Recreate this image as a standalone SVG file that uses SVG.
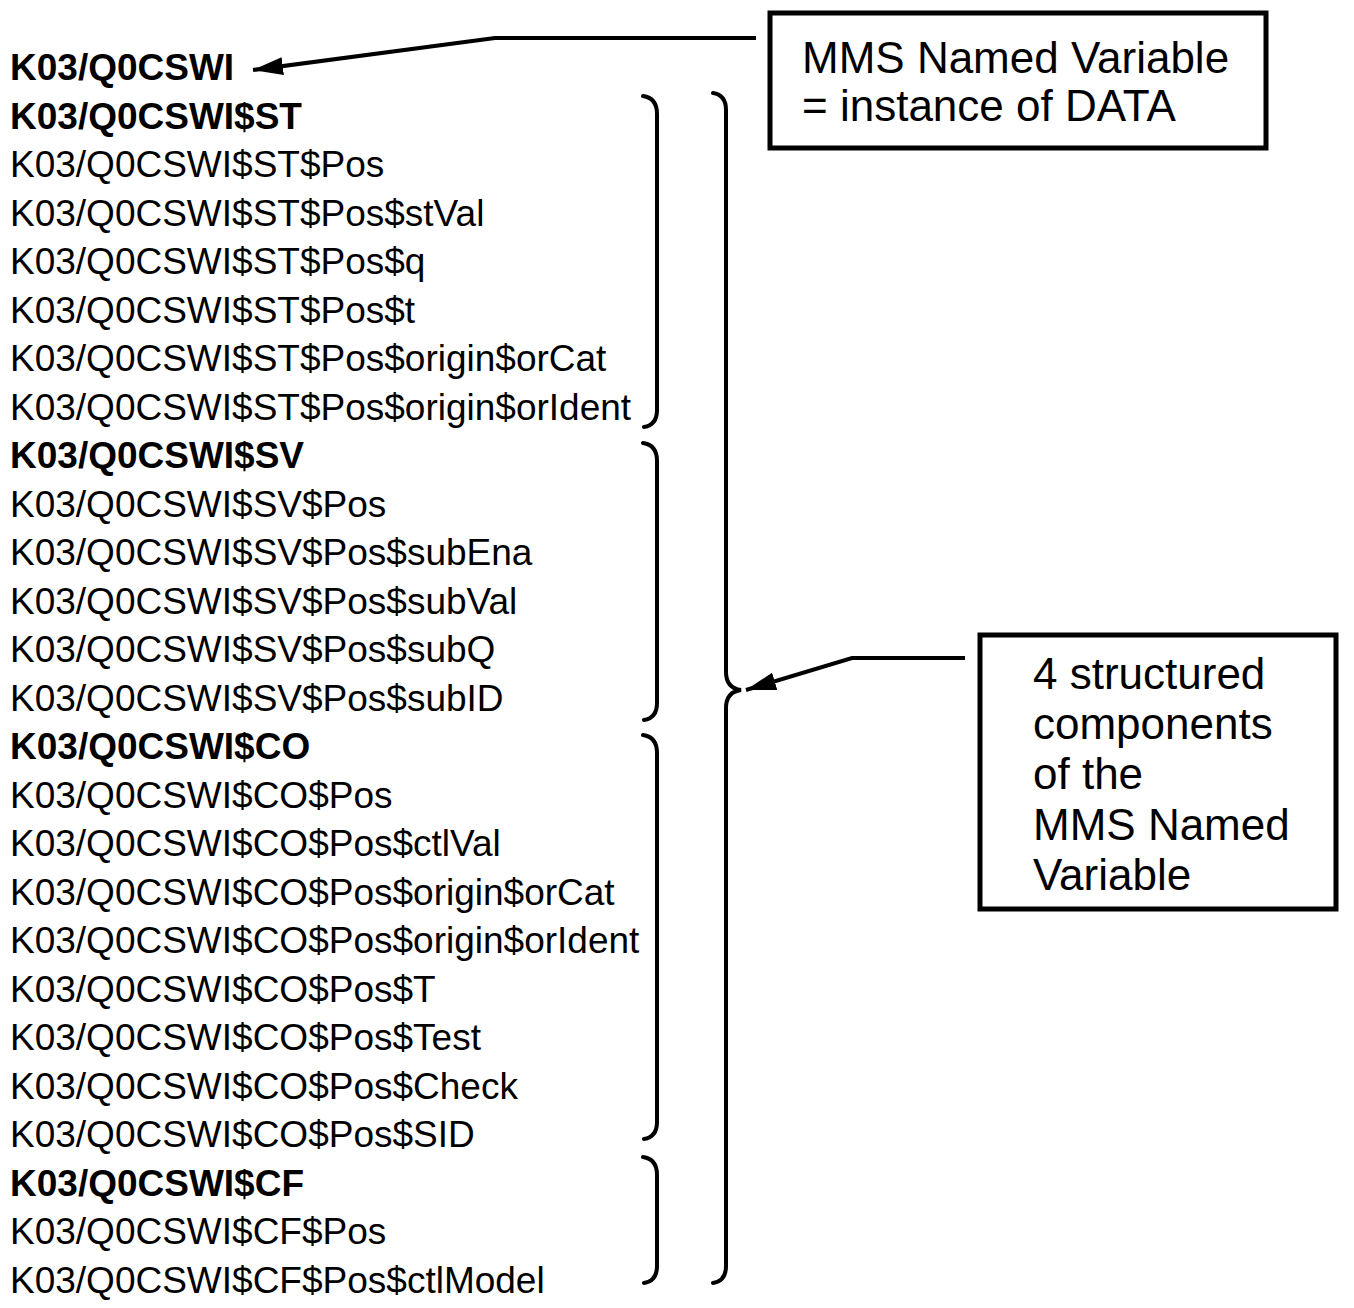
<svg xmlns="http://www.w3.org/2000/svg" width="1354" height="1308" viewBox="0 0 1354 1308">
<defs>
<style>
text{font-family:"Liberation Sans",Arial,sans-serif;fill:#000}
.n{font-size:37px}
.b{font-size:37px;font-weight:bold}
.bx{font-size:44px}
.box{fill:#fff;stroke:#000;stroke-width:5}
.br{fill:none;stroke:#000;stroke-width:4;stroke-linecap:round}
.ln{fill:none;stroke:#000;stroke-width:4}
</style>
<marker id="ah" viewBox="0 0 30 18" refX="30" refY="9" markerWidth="30" markerHeight="18" markerUnits="userSpaceOnUse" orient="auto">
<path d="M0,0 L30,9 L0,18 z" fill="#000"/>
</marker>
</defs>
<rect width="1354" height="1308" fill="#fff"/>
<g id="list">
<text class="b" x="10" y="80">K03/Q0CSWI</text>
<text class="b" x="10" y="128.5">K03/Q0CSWI$ST</text>
<text class="n" x="10" y="177">K03/Q0CSWI$ST$Pos</text>
<text class="n" x="10" y="225.5">K03/Q0CSWI$ST$Pos$stVal</text>
<text class="n" x="10" y="274">K03/Q0CSWI$ST$Pos$q</text>
<text class="n" x="10" y="322.5">K03/Q0CSWI$ST$Pos$t</text>
<text class="n" x="10" y="371">K03/Q0CSWI$ST$Pos$origin$orCat</text>
<text class="n" x="10" y="419.5">K03/Q0CSWI$ST$Pos$origin$orIdent</text>
<text class="b" x="10" y="468">K03/Q0CSWI$SV</text>
<text class="n" x="10" y="516.5">K03/Q0CSWI$SV$Pos</text>
<text class="n" x="10" y="565">K03/Q0CSWI$SV$Pos$subEna</text>
<text class="n" x="10" y="613.5">K03/Q0CSWI$SV$Pos$subVal</text>
<text class="n" x="10" y="662">K03/Q0CSWI$SV$Pos$subQ</text>
<text class="n" x="10" y="710.5">K03/Q0CSWI$SV$Pos$subID</text>
<text class="b" x="10" y="759">K03/Q0CSWI$CO</text>
<text class="n" x="10" y="807.5">K03/Q0CSWI$CO$Pos</text>
<text class="n" x="10" y="856">K03/Q0CSWI$CO$Pos$ctlVal</text>
<text class="n" x="10" y="904.5">K03/Q0CSWI$CO$Pos$origin$orCat</text>
<text class="n" x="10" y="953">K03/Q0CSWI$CO$Pos$origin$orIdent</text>
<text class="n" x="10" y="1001.5">K03/Q0CSWI$CO$Pos$T</text>
<text class="n" x="10" y="1050">K03/Q0CSWI$CO$Pos$Test</text>
<text class="n" x="10" y="1098.5">K03/Q0CSWI$CO$Pos$Check</text>
<text class="n" x="10" y="1147">K03/Q0CSWI$CO$Pos$SID</text>
<text class="b" x="10" y="1195.5">K03/Q0CSWI$CF</text>
<text class="n" x="10" y="1244">K03/Q0CSWI$CF$Pos</text>
<text class="n" x="10" y="1292.5">K03/Q0CSWI$CF$Pos$ctlModel</text>
</g>
<g id="brackets">
<path class="br" d="M643,96 Q657,98 657,114 L657,410 Q657,425 644,427"/>
<path class="br" d="M643,443 Q657,445 657,461 L657,703 Q657,718 644,720"/>
<path class="br" d="M643,735 Q657,737 657,753 L657,1122 Q657,1137 644,1139"/>
<path class="br" d="M643,1157 Q657,1159 657,1175 L657,1266 Q657,1281 644,1283"/>
<path class="br" d="M713,93 Q726,95 726,110 L726,672 Q726,688 741,690 Q726,692 726,708 L726,1266 Q726,1281 713,1283"/>
</g>
<g id="box-top">
<rect class="box" x="770" y="13" width="496" height="135"/>
<text class="bx" x="802" y="73">MMS Named Variable</text>
<text class="bx" x="802" y="121">= instance of DATA</text>
</g>
<g id="box-right">
<rect class="box" x="980" y="635" width="356" height="274"/>
<text class="bx" x="1033" y="689">4 structured</text>
<text class="bx" x="1033" y="739">components</text>
<text class="bx" x="1033" y="789">of the</text>
<text class="bx" x="1033" y="840">MMS Named</text>
<text class="bx" x="1033" y="890">Variable</text>
</g>
<g id="connectors">
<path class="ln" d="M756,38 L495,38 L253,70" marker-end="url(#ah)"/>
<path class="ln" d="M965,658 L852,658 L746,690" marker-end="url(#ah)"/>
</g>
</svg>
